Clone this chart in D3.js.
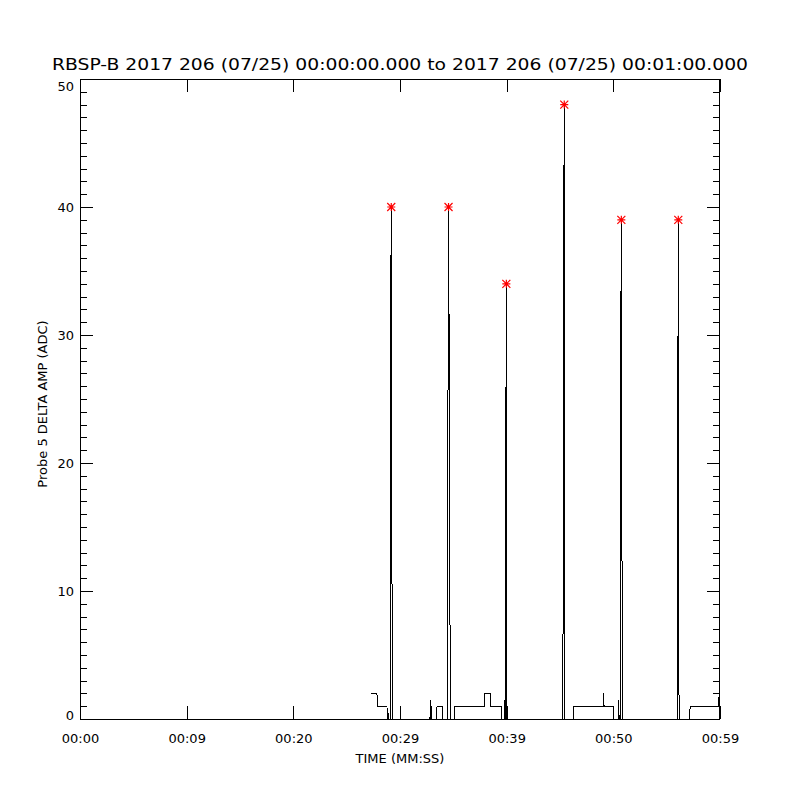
<!DOCTYPE html>
<html>
<head>
<meta charset="utf-8">
<script src="https://cdn.jsdelivr.net/npm/d3@7"></script>
<style>
  body { margin: 0; background: #fff; }
  text { font-family: "DejaVu Sans", sans-serif; fill: #000; }
</style>
</head>
<body>
<svg width="800" height="800"></svg>
<script>
// chart data (seconds after 00:00:00, ADC counts)
var timeSec = [27.31, 27.84, 27.86, 27.91, 28.78, 28.80, 28.81, 28.84, 28.88, 28.90,
  29.09, 29.12, 29.18, 29.20, 29.28, 30.01, 30.03, 30.05, 32.81, 32.84,
  32.88, 32.91, 32.93, 33.45, 33.47, 33.97, 33.99, 34.47, 34.52, 34.57,
  34.62, 34.72, 35.11, 35.13, 37.90, 37.92, 38.44, 38.46, 39.47, 39.49,
  39.76, 39.78, 39.80, 39.87, 39.92, 39.97, 40.00, 40.03, 45.25, 45.30,
  45.33, 45.40, 45.42, 45.47, 46.29, 46.31, 49.04, 49.06, 49.10, 49.13,
  50.03, 50.05, 50.45, 50.47, 50.55, 50.65, 50.70, 50.75, 50.78, 50.84,
  56.00, 56.04, 56.09, 56.13, 56.16, 57.12, 57.15, 57.22, 59.81, 59.88, 59.95];
var adcValue = [2, 2, 1.5, 1, 1, 0, 0.45, 0, 0.45, 0,
  0, 29.5, 40, 28.6, 0, 0, 1, 0, 0, 1.5,
  0, 1, 0, 0, 1, 1, 0, 0, 40, 40,
  23, 0, 0, 1, 1, 2, 2, 1, 1, 0,
  0, 1.5, 0, 0, 21, 34, 18.5, 0, 0, 9.9,
  34, 48, 10, 0, 0, 1, 1, 2, 1.5, 1,
  1, 0, 0, 1.5, 0, 0, 29.5, 39, 27.5, 0,
  0, 21, 39, 21, 0, 0, 0.5, 1, 1, 1.5, 2];

// peaks marked with red asterisks
var peakTime = [29.18, 34.55, 39.97, 45.40, 50.75, 56.09];
var peakValue = [40, 40, 34, 48, 39, 39];

var xTickVals = [0, 10, 20, 30, 40, 50, 60];
var xTickLabels = ["00:00", "00:09", "00:20", "00:29", "00:39", "00:50", "00:59"];
var yTickVals = [0, 10, 20, 30, 40, 50];
var yMinorVals = d3.range(0, 51, 1);

var titleText = "RBSP-B 2017 206 (07/25) 00:00:00.000 to 2017 206 (07/25) 00:01:00.000";

var plotL = 80, plotR = 720, plotT = 79, plotB = 719;

var svg = d3.select("svg");

var x = d3.scaleLinear().domain([0, 60]).range([plotL, plotR]);
var y = d3.scaleLinear().domain([0, 50]).range([plotB, plotT]);

// box
svg.append("rect")
  .attr("x", plotL + 0.5)
  .attr("y", plotT + 0.5)
  .attr("width", plotR - plotL - 1)
  .attr("height", plotB - plotT)
  .style("fill", "none")
  .style("stroke", "#000")
  .style("stroke-width", 1)
  .attr("shape-rendering", "crispEdges");

function cleanAxis(g) {
  g.select(".domain").remove();
  g.selectAll("line").attr("stroke", "#000").attr("shape-rendering", "crispEdges");
  g.selectAll("text").attr("fill", "#000")
    .style("font-family", "DejaVu Sans, sans-serif");
}

// x axes
svg.append("g")
  .attr("transform", "translate(0," + plotB + ")")
  .call(d3.axisBottom(x).tickValues(xTickVals)
    .tickFormat(function (d, i) { return xTickLabels[i]; })
    .tickSizeInner(-13).tickSizeOuter(0).tickPadding(15))
  .call(cleanAxis)
  .selectAll("text").style("font-size", "13px");

svg.append("g")
  .attr("transform", "translate(0," + plotT + ")")
  .call(d3.axisTop(x).tickValues(xTickVals).tickFormat("")
    .tickSizeInner(-13).tickSizeOuter(0))
  .call(cleanAxis);

// y axes, minor first
svg.append("g")
  .attr("transform", "translate(" + plotL + ",0)")
  .call(d3.axisLeft(y).tickValues(yMinorVals).tickFormat("")
    .tickSizeInner(-7).tickSizeOuter(0))
  .call(cleanAxis);

var yLeft = svg.append("g")
  .attr("transform", "translate(" + plotL + ",0)")
  .call(d3.axisLeft(y).tickValues(yTickVals).tickFormat(d3.format("d"))
    .tickSizeInner(-13).tickSizeOuter(0).tickPadding(6))
  .call(cleanAxis);
yLeft.selectAll("text").style("font-size", "13px")
  .attr("y", function (d) { return d === 50 ? 7 : (d === 0 ? -4 : 0); });

svg.append("g")
  .attr("transform", "translate(" + plotR + ",0)")
  .call(d3.axisRight(y).tickValues(yMinorVals).tickFormat("")
    .tickSizeInner(-7).tickSizeOuter(0))
  .call(cleanAxis);

svg.append("g")
  .attr("transform", "translate(" + plotR + ",0)")
  .call(d3.axisRight(y).tickValues(yTickVals).tickFormat("")
    .tickSizeInner(-13).tickSizeOuter(0))
  .call(cleanAxis);

// data line
var pts = timeSec.map(function (t, i) { return [t, adcValue[i]]; });
var line = d3.line()
  .x(function (d) { return x(d[0]); })
  .y(function (d) { return y(d[1]); });

svg.append("path")
  .datum(pts)
  .attr("d", line)
  .style("fill", "none")
  .style("stroke", "#000")
  .style("stroke-width", 1)
  .attr("shape-rendering", "crispEdges");

// asterisks like IDL psym=2
var s = 4;
svg.selectAll(".star")
  .data(peakTime)
  .enter().append("path")
  .attr("class", "star")
  .attr("d", function (t, i) {
    var cx = x(t), cy = y(peakValue[i]);
    return "M" + (cx - s) + "," + cy + "L" + (cx + s) + "," + cy +
      "M" + cx + "," + (cy - s) + "L" + cx + "," + (cy + s) +
      "M" + (cx - s) + "," + (cy - s) + "L" + (cx + s) + "," + (cy + s) +
      "M" + (cx - s) + "," + (cy + s) + "L" + (cx + s) + "," + (cy - s);
  })
  .style("fill", "none")
  .style("stroke", "#ff0000")
  .style("stroke-width", 1.2);

// texts
svg.append("text")
  .attr("x", 400)
  .attr("y", 70)
  .attr("text-anchor", "middle")
  .attr("textLength", 696)
  .attr("lengthAdjust", "spacingAndGlyphs")
  .style("font-size", "15px")
  .text(titleText);

svg.append("text")
  .attr("x", 400)
  .attr("y", 763)
  .attr("text-anchor", "middle")
  .style("font-size", "13px")
  .text("TIME (MM:SS)");

svg.append("text")
  .attr("transform", "translate(47,404) rotate(-90)")
  .attr("text-anchor", "middle")
  .style("font-size", "13px")
  .text("Probe 5 DELTA AMP (ADC)");
</script>
</body>
</html>
